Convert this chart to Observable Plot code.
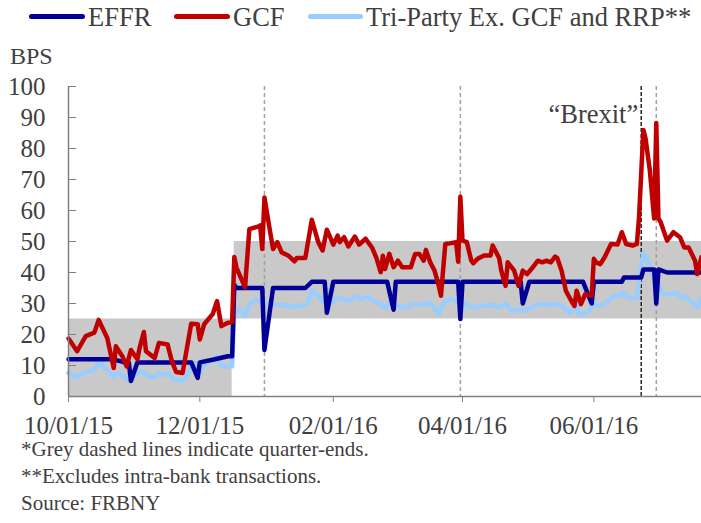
<!DOCTYPE html>
<html><head><meta charset="utf-8">
<script src="https://cdn.jsdelivr.net/npm/d3@7"></script>
<script src="https://cdn.jsdelivr.net/npm/@observablehq/plot@0.6"></script>
<style>
body{margin:0;background:#fff;font-family:"Liberation Serif","Times New Roman",serif;color:#404040;}
#wrap{width:701px;}
#head{position:relative;height:70px;}
.sw{position:absolute;height:5px;border-radius:3px;top:14px;}
.lt{position:absolute;font-size:26.5px;line-height:26.5px;top:4px;white-space:nowrap;}
#bps{position:absolute;left:10px;top:44px;font-size:24px;line-height:24px;}
#foot{font-size:21px;line-height:27px;padding-left:21px;}
svg{display:block}
</style></head>
<body>
<div id="wrap">
  <div id="head">
    <div class="sw" style="left:29px;width:56px;background:#000099"></div>
    <div class="lt" style="left:88px">EFFR</div>
    <div class="sw" style="left:174px;width:56px;background:#c00000"></div>
    <div class="lt" style="left:233px">GCF</div>
    <div class="sw" style="left:308px;width:55px;background:#99ccff"></div>
    <div class="lt" style="left:366px">Tri-Party Ex. GCF and RRP**</div>
    <div id="bps">BPS</div>
  </div>
  <div id="chart"></div>
  <div id="foot">
    <div>*Grey dashed lines indicate quarter-ends.</div>
    <div>**Excludes intra-bank transactions.</div>
    <div>Source: FRBNY</div>
  </div>
</div>
<script>
const xDomain = ["2015-10-01", "2016-07-21"];
const xTicks = ["2015-10-01", "2015-12-01", "2016-02-01", "2016-04-01", "2016-06-01"];
const yTicks = [0, 10, 20, 30, 40, 50, 60, 70, 80, 90, 100];
const quarterEnds = ["2015-12-31", "2016-03-31", "2016-06-30"];
const brexitDate = ["2016-06-23"];
const brexitLabel = ["\u201cBrexit\u201d"];
const bandStart = ["2015-10-01", "2015-12-17"];
const bandEnd = ["2015-12-16", "2016-07-21"];
const bandLow = [0, 25];
const bandHigh = [25, 50];

const effrDates = ["2015-10-01","2015-10-22","2015-10-27","2015-10-29","2015-10-30","2015-11-02","2015-11-27","2015-11-30","2015-12-01","2015-12-08","2015-12-14","2015-12-16","2015-12-17","2015-12-18","2015-12-30","2015-12-31","2016-01-04","2016-01-19","2016-01-22","2016-01-28","2016-01-29","2016-02-01","2016-02-26","2016-02-29","2016-03-01","2016-03-30","2016-03-31","2016-04-01","2016-04-28","2016-04-29","2016-05-02","2016-05-27","2016-05-31","2016-06-01","2016-06-14","2016-06-15","2016-06-23","2016-06-24","2016-06-29","2016-06-30","2016-07-01","2016-07-05","2016-07-21"];
const effrValues = [12,12,11,11,5,11,11,6,11,12,13,13,36,35,35,15,35,35,37,37,27,37,37,28,37,37,25,37,37,30,37,37,30,37,37,38.4,38.4,41,41,30,41,40,40];

const gcfDates = ["2015-10-01","2015-10-05","2015-10-09","2015-10-13","2015-10-15","2015-10-19","2015-10-22","2015-10-23","2015-10-26","2015-10-28","2015-10-30","2015-11-02","2015-11-03","2015-11-05","2015-11-06","2015-11-10","2015-11-12","2015-11-16","2015-11-18","2015-11-20","2015-11-23","2015-11-25","2015-11-27","2015-11-30","2015-12-01","2015-12-03","2015-12-07","2015-12-09","2015-12-11","2015-12-14","2015-12-16","2015-12-17","2015-12-18","2015-12-22","2015-12-24","2015-12-28","2015-12-29","2015-12-30","2015-12-31","2016-01-02","2016-01-04","2016-01-06","2016-01-08","2016-01-11","2016-01-14","2016-01-15","2016-01-19","2016-01-22","2016-01-25","2016-01-27","2016-01-29","2016-02-01","2016-02-03","2016-02-04","2016-02-06","2016-02-08","2016-02-11","2016-02-13","2016-02-16","2016-02-19","2016-02-21","2016-02-23","2016-02-24","2016-02-25","2016-02-27","2016-02-29","2016-03-02","2016-03-04","2016-03-08","2016-03-10","2016-03-12","2016-03-14","2016-03-15","2016-03-17","2016-03-19","2016-03-21","2016-03-22","2016-03-24","2016-03-26","2016-03-29","2016-03-30","2016-03-31","2016-04-01","2016-04-03","2016-04-05","2016-04-06","2016-04-08","2016-04-11","2016-04-14","2016-04-15","2016-04-18","2016-04-19","2016-04-21","2016-04-22","2016-04-25","2016-04-27","2016-04-29","2016-05-01","2016-05-03","2016-05-06","2016-05-08","2016-05-10","2016-05-12","2016-05-14","2016-05-15","2016-05-17","2016-05-19","2016-05-22","2016-05-23","2016-05-24","2016-05-26","2016-05-28","2016-05-31","2016-06-01","2016-06-02","2016-06-04","2016-06-06","2016-06-09","2016-06-12","2016-06-14","2016-06-16","2016-06-19","2016-06-21","2016-06-22","2016-06-24","2016-06-25","2016-06-27","2016-06-29","2016-06-30","2016-07-01","2016-07-02","2016-07-05","2016-07-08","2016-07-11","2016-07-13","2016-07-15","2016-07-18","2016-07-19","2016-07-21"];
const gcfValues = [18.7,14.6,19.5,20.6,24.7,18.9,9.2,16.2,13,9.7,15,12,15.6,20.8,14.6,12.4,17.3,16.8,11.4,7.9,7.6,15.6,23.5,23.3,18.4,23.3,26.6,30.8,22.7,23.8,24,45,41.6,35.2,54,54.8,55.2,47.6,64.2,55.8,47.6,49.8,46.5,45.5,43.6,44.7,44.7,57,49.8,47.1,53.8,49,51.9,49.8,51.4,48.4,51.6,49,50.9,48,44.7,40.1,45.4,41.1,46,41.7,43.8,41.7,41.7,46,46,43.8,47.3,43.3,40.6,35.7,32.5,49.2,49.4,49.8,43.5,64.4,50.3,49.8,44,43,44.4,45.5,45.5,48.7,44.7,40.6,35.7,43.3,40.6,35.7,40.6,39.5,41.1,43.8,43.3,43.8,43.3,45.1,44.7,40.6,34.1,30.3,29.2,34.1,29.8,33,32.5,44.4,43.3,42.7,44.9,49.2,49,53,49.2,48.7,49.2,57.9,86,83.3,73,57.4,88.2,57.4,56.3,50.3,53,51.4,48.1,48.1,43.8,39.5,45];

const triDates = ["2015-10-01","2015-10-05","2015-10-08","2015-10-11","2015-10-13","2015-10-15","2015-10-18","2015-10-22","2015-10-24","2015-10-27","2015-10-29","2015-10-31","2015-11-02","2015-11-04","2015-11-07","2015-11-10","2015-11-12","2015-11-15","2015-11-17","2015-11-19","2015-11-23","2015-11-25","2015-11-27","2015-11-29","2015-12-01","2015-12-03","2015-12-06","2015-12-09","2015-12-11","2015-12-16","2015-12-17","2015-12-19","2015-12-22","2015-12-24","2015-12-27","2015-12-30","2016-01-02","2016-01-08","2016-01-14","2016-01-18","2016-01-20","2016-01-22","2016-01-25","2016-01-27","2016-01-29","2016-02-01","2016-02-03","2016-02-06","2016-02-09","2016-02-11","2016-02-14","2016-02-17","2016-02-20","2016-02-23","2016-02-25","2016-02-27","2016-02-29","2016-03-02","2016-03-06","2016-03-09","2016-03-12","2016-03-16","2016-03-19","2016-03-21","2016-03-24","2016-03-27","2016-03-30","2016-03-31","2016-04-02","2016-04-06","2016-04-11","2016-04-15","2016-04-18","2016-04-21","2016-04-24","2016-04-27","2016-04-30","2016-05-03","2016-05-06","2016-05-10","2016-05-15","2016-05-18","2016-05-21","2016-05-24","2016-05-25","2016-05-29","2016-06-01","2016-06-04","2016-06-07","2016-06-10","2016-06-13","2016-06-15","2016-06-17","2016-06-21","2016-06-22","2016-06-24","2016-06-26","2016-06-29","2016-07-01","2016-07-03","2016-07-06","2016-07-09","2016-07-12","2016-07-14","2016-07-17","2016-07-19","2016-07-21"];
const triValues = [7.6,6.2,7.6,8.3,8.6,10.8,9.2,6.2,7.6,6.5,5.4,6.5,7.3,8.3,6.5,6.2,7.3,7,7.3,5.4,5.1,6.5,9.7,10.8,7.6,10.2,11.3,12.9,9.7,9.7,26.5,28.1,26,29.8,31.3,30.3,29.8,29.5,28.9,29.5,29.8,34.1,32.5,30.8,34.5,30.3,31.9,31.4,30.8,32.2,31.4,32.2,30.8,29.8,28.7,30.3,28.7,29.2,28.7,29.8,29.5,30.3,28.7,26.5,30.8,31.4,30.3,28.1,29.8,28.7,29.2,29.5,28.7,29.8,27.6,28.1,27.6,28.7,29.8,29.5,29.8,28.7,26.7,29.8,26.5,27,29.8,29.2,30.3,32.5,32.5,33.5,31.9,31.9,37.3,46.2,43.8,38.4,36.8,33,33,33.5,31.9,31.9,30.3,28.7,31.5];

const D = s => new Date(s);
const toSeries = (dates, values) => dates.map((d, i) => ({date: D(d), value: values[i]}));
const effr = toSeries(effrDates, effrValues);
const gcf = toSeries(gcfDates, gcfValues);
const tri = toSeries(triDates, triValues);
const bands = bandStart.map((s, i) => ({x1: D(s), x2: D(bandEnd[i]), y1: bandLow[i], y2: bandHigh[i]}));

const chart = Plot.plot({
  width: 701,
  height: 366,
  marginTop: 16,
  marginLeft: 68,
  marginRight: 0,
  marginBottom: 40,
  style: {fontFamily: "'Liberation Serif', 'Times New Roman', serif", fontSize: "25px", color: "#404040", background: "white", overflow: "visible"},
  x: {type: "utc", domain: xDomain.map(D), label: null},
  y: {domain: [0, 100], label: null},
  marks: [
    Plot.rect(bands, {x1: "x1", x2: "x2", y1: "y1", y2: "y2", fill: "#c9c9c9"}),
    Plot.ruleX(quarterEnds.map(D), {stroke: "#a0a0a0", strokeWidth: 1.5, strokeDasharray: "4,3"}),
    Plot.ruleX(brexitDate.map(D), {stroke: "#262626", strokeWidth: 1.5, strokeDasharray: "4,2"}),
    Plot.line(tri, {x: "date", y: "value", stroke: "#99ccff", strokeWidth: 4.5, strokeLinejoin: "round", strokeLinecap: "round"}),
    Plot.line(effr, {x: "date", y: "value", stroke: "#000099", strokeWidth: 4.5, strokeLinejoin: "round", strokeLinecap: "round"}),
    Plot.line(gcf, {x: "date", y: "value", stroke: "#c00000", strokeWidth: 4.5, strokeLinejoin: "round", strokeLinecap: "round"}),
    Plot.ruleY([0], {stroke: "#808080", strokeWidth: 1.5}),
    Plot.ruleX([D(xDomain[0])], {stroke: "#808080", strokeWidth: 1.5}),
    Plot.axisY({ticks: yTicks, tickSize: -8, tickPadding: 31, stroke: "#808080", fill: "#404040", label: null}),
    Plot.axisX({ticks: xTicks.map(D), tickFormat: "%m/%d/%y", tickSize: 6, tickPadding: 14, stroke: "#808080", fill: "#404040", label: null}),
    Plot.text(brexitLabel, {x: brexitDate.map(D), y: [91], text: d => d, textAnchor: "end", dx: -3, fontSize: 26.5, fill: "#404040"})
  ]
});
document.getElementById("chart").appendChild(chart);
</script>
</body></html>
